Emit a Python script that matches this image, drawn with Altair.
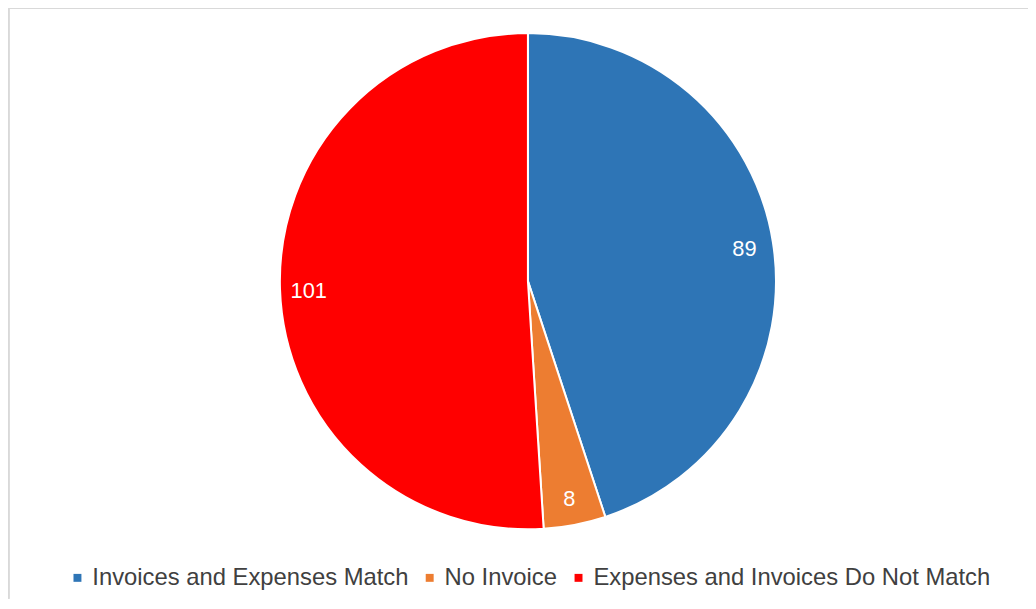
import altair as alt
import pandas as pd

categories = ["Invoices and Expenses Match", "No Invoice", "Expenses and Invoices Do Not Match"]
values = [89, 8, 101]
colors = ["#2E75B6", "#ED7D31", "#FF0000"]
order = [0, 1, 2]

df = pd.DataFrame({"category": categories, "value": values, "order": order})

W, H = 1028, 593
CX, CY = 524, 273

color = alt.Color(
    "category:N",
    scale=alt.Scale(domain=categories, range=colors),
    sort=categories,
    legend=alt.Legend(
        title=None,
        orient="none",
        direction="horizontal",
        legendX=58,
        legendY=560,
        symbolType="square",
        symbolSize=64,
        symbolStrokeWidth=0,
        labelFontSize=24,
        labelFont="Liberation Sans",
        labelColor="#404040",
        labelOffset=3,
        columnPadding=9,
        labelLimit=600,
        padding=0,
    ),
)

base = alt.Chart(df).encode(
    theta=alt.Theta("value:Q", stack=True),
    order=alt.Order("order:Q"),
)

arcs = base.mark_arc(outerRadius=250, stroke="white", strokeWidth=2).encode(
    color=color,
    x=alt.value(CX),
    y=alt.value(CY),
)

labels = base.mark_text(
    radius=221, fontSize=22, font="Liberation Sans", color="white"
).encode(
    text=alt.Text("value:Q"),
    x=alt.value(CX),
    y=alt.value(CY + 3),
)

border_top = alt.Chart(df).mark_rule(color="#d9d9d9", strokeWidth=1.5).encode(
    x=alt.value(0.5), x2=alt.value(W), y=alt.value(-2)
)
border_left = alt.Chart(df).mark_rule(color="#d9d9d9", strokeWidth=1.5).encode(
    x=alt.value(0.8), y=alt.value(-2), y2=alt.value(H)
)

chart = alt.layer(arcs, labels, border_top, border_left).properties(
    width=W, height=H, padding=0, autosize=alt.AutoSizeParams(type="none")
).configure_view(stroke=None)

chart.save("out.html", embed_options={"renderer": "svg", "actions": False})
